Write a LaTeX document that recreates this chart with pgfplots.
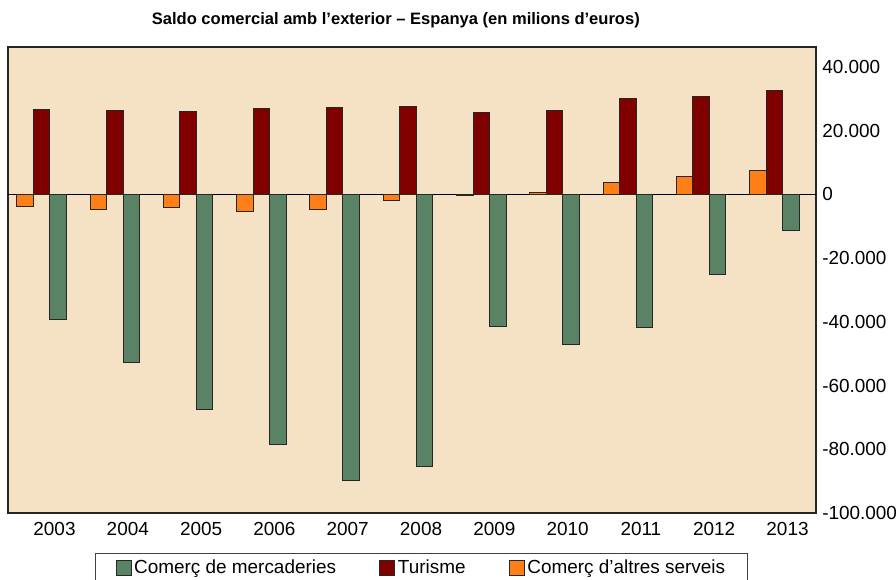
\documentclass[border=0pt]{standalone}
\usepackage{pgfplots}
\pgfplotsset{compat=1.18}
\usepackage{fontspec}
\setmainfont{Liberation Sans}
\definecolor{bgc}{HTML}{F5E1C4}
\definecolor{cgreen}{HTML}{5A8264}
\definecolor{cred}{HTML}{800000}
\definecolor{corange}{HTML}{FF7F17}
\begin{document}
\begin{tikzpicture}
\clip (-6pt,-50.25pt) rectangle (666pt,384.75pt);
\begin{axis}[
  at={(0,0)}, anchor=south west,
  scale only axis, width=606pt, height=349.5pt,
  xmin=-0.457, xmax=10.566, ymin=-100000, ymax=46300,
  ybar, bar width=0.225,
  axis background/.style={fill=bgc},
  axis line style={draw=black!85, line width=0.9pt},
  xtick={0,1,2,3,4,5,6,7,8,9,10},
  xticklabels={2003,2004,2005,2006,2007,2008,2009,2010,2011,2012,2013},
  ytick={-100000,-80000,-60000,-40000,-20000,0,20000,40000},
  yticklabel pos=right,
  major tick length=0pt,
  xtick style={draw=none}, ytick style={draw=none},
  scaled y ticks=false,
  /pgf/number format/.cd, fixed, 1000 sep={.}, assume math mode=true, /pgfplots/.cd,
  tick label style={font=\fontsize{14.2}{16}\selectfont, inner sep=0pt},
  xticklabel style={anchor=north, yshift=-6.75pt, xshift=9.75pt},
  yticklabel style={anchor=west, xshift=4.5pt},
  extra y ticks={0}, extra y tick labels={},
  extra y tick style={grid=major, major grid style={black, line width=0.75pt}},
  title={Saldo comercial amb l’exterior – Espanya (en milions d’euros)},
  title style={font=\bfseries\fontsize{12.4}{14}\selectfont, at={(0.48,1)}, anchor=base, yshift=10.5pt, inner sep=0pt},
  sqlegend/.style={legend image code/.code={\draw[##1, draw=black!85, line width=0.6pt] (0pt,-5.6pt) rectangle (11.25pt,5.6pt);}},
  sqlegend,
  legend columns=3,
  legend style={at={(0.1077,-0.0858)}, anchor=north west, draw=black!75, line width=0.9pt, fill=white,
    font=\fontsize{14.2}{16}\selectfont, inner xsep=15pt, inner ysep=3pt,
    /tikz/every even column/.append style={column sep=30.5pt}},
]
\addplot[sqlegend, bar shift=0.225, fill=cgreen, draw=black!85, line width=0.75pt] coordinates {
(0,-39190) (1,-52690) (2,-67440) (3,-78650) (4,-89740) (5,-85250)
(6,-41510) (7,-47040) (8,-41700) (9,-25280) (10,-11460)};
\addlegendentry{Comerç de mercaderies}
\addplot[sqlegend, bar shift=0, fill=cred, draw=black!85, line width=0.75pt] coordinates {
(0,26750) (1,26220) (2,25900) (3,26940) (4,27250) (5,27470)
(6,25680) (7,26440) (8,30080) (9,30830) (10,32590)};
\addlegendentry{Turisme}
\addplot[sqlegend, bar shift=-0.225, fill=corange, draw=black!85, line width=0.75pt] coordinates {
(0,-3830) (1,-4870) (2,-4240) (3,-5280) (4,-4870) (5,-1950)
(6,-470) (7,570) (8,3700) (9,5590) (10,7470)};
\addlegendentry{Comerç d’altres serveis}
\end{axis}
\end{tikzpicture}
\end{document}
